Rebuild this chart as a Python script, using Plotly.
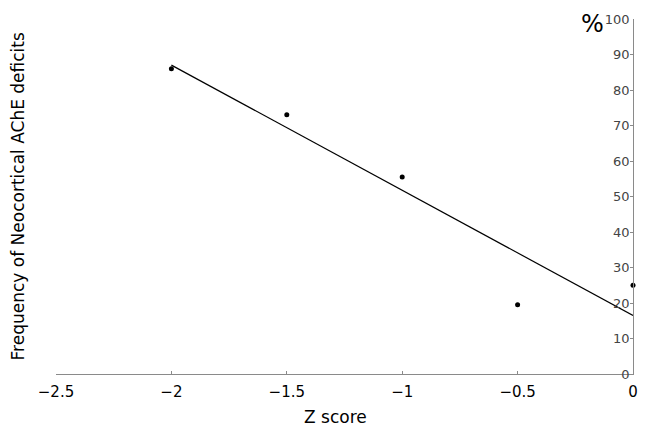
import plotly.graph_objects as go

# Data
z_scores = [-2.0, -1.5, -1.0, -0.5, 0.0]
freq_pct = [86.0, 73.0, 55.5, 19.5, 25.0]

# Fitted trend line (endpoints)
fit_x = [-2.0, 0.0]
fit_y = [87.0, 16.5]

x_ticks = [-2.5, -2.0, -1.5, -1.0, -0.5, 0.0]
y_ticks = [0, 10, 20, 30, 40, 50, 60, 70, 80, 90, 100]

fig = go.Figure()
fig.add_trace(go.Scatter(x=fit_x, y=fit_y, mode="lines",
                         line=dict(color="black", width=1.2),
                         showlegend=False, cliponaxis=False))
fig.add_trace(go.Scatter(x=z_scores, y=freq_pct, mode="markers",
                         marker=dict(color="black", size=5),
                         showlegend=False, cliponaxis=False))

axis_color = "#8a8a8a"
fig.update_layout(
    width=650, height=435,
    margin=dict(l=56, r=14, t=14, b=61),
    plot_bgcolor="white", paper_bgcolor="white",
    font=dict(family="DejaVu Sans", color="black"),
    xaxis=dict(range=[-2.5, 0], tickvals=x_ticks,
               ticks="inside", ticklen=3, tickcolor=axis_color,
               showline=True, linecolor=axis_color, linewidth=1,
               showgrid=False, zeroline=False, ticklabelstandoff=4,
               tickfont=dict(size=15, family="DejaVu Sans")),
    yaxis=dict(range=[0, 100], tickvals=y_ticks, side="right",
               ticks="inside", ticklen=3, tickcolor=axis_color,
               ticklabelposition="inside", ticklabeloverflow="allow",
               showline=True, linecolor=axis_color, linewidth=1,
               showgrid=False, zeroline=False,
               tickfont=dict(size=13, family="DejaVu Sans")),
    annotations=[
        dict(text="Frequency of Neocortical AChE deficits", textangle=-90,
             xref="paper", yref="paper", x=-0.066, y=0.5,
             xanchor="center", yanchor="middle", showarrow=False,
             font=dict(size=17, family="DejaVu Sans")),
        dict(text="Z score", xref="paper", yref="paper", x=0.485, y=-0.122,
             xanchor="center", yanchor="middle", showarrow=False,
             font=dict(size=17, family="DejaVu Sans")),
        dict(text="%", xref="paper", yref="paper", x=0.929, y=0.985,
             xanchor="center", yanchor="middle", showarrow=False,
             font=dict(size=24, family="DejaVu Sans")),
    ],
)

fig.write_html("out.html", config={"displayModeBar": False},
               post_script="document.body.style.margin='0';")
